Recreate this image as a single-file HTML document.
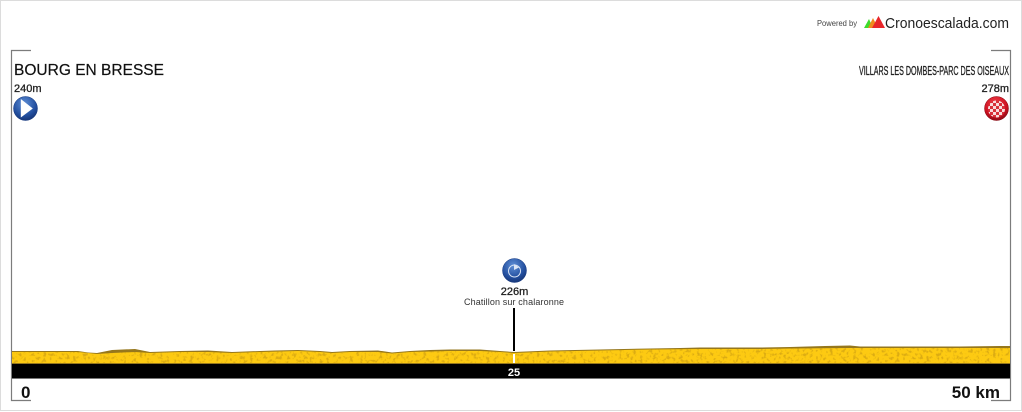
<!DOCTYPE html>
<html><head><meta charset="utf-8"><style>
html,body{margin:0;padding:0;background:#fff}
svg{display:block}
text{font-family:"Liberation Sans",sans-serif}
</style></head><body>
<svg width="1022" height="412" viewBox="0 0 1022 412" xmlns="http://www.w3.org/2000/svg">
<defs>
<filter id="n" x="0" y="0" width="100%" height="100%" color-interpolation-filters="sRGB">
<feTurbulence type="fractalNoise" baseFrequency="0.3" numOctaves="2" seed="4"/>
<feColorMatrix values="0 0 0 0 0.76  0 0 0 0 0.58  0 0 0 0 0.08  5 0 0 0 -2.6"/>
</filter>
<clipPath id="prof"><path d="M12 352L78 352L88 353L97 354L112 353L135 352L150 353L180 352L208 352L232 353L260 352L298 351L320 352L332 353L350 352L378 352L392 353.5L410 352L450 351L480 351L500 352L514 353L550 351.5L600 350.5L650 349.500L700 349L760 349L790 348.5L850 348L900 348L1010 348L1010 363L12 363Z"/></clipPath>
<radialGradient id="b" cx="45%" cy="30%" r="75%"><stop offset="0" stop-color="#5f8fd6"/><stop offset=".65" stop-color="#234f9f"/><stop offset="1" stop-color="#14306e"/></radialGradient>
<radialGradient id="r" cx="45%" cy="30%" r="75%"><stop offset="0" stop-color="#f0404a"/><stop offset=".65" stop-color="#cc1020"/><stop offset="1" stop-color="#7e0a14"/></radialGradient>
<pattern id="chk" width="6" height="6" patternUnits="userSpaceOnUse" x="987" y="100"><rect width="6" height="6" fill="#f7dcdd"/><rect x="3" width="3" height="3" fill="#d8303a"/><rect y="3" width="3" height="3" fill="#d8303a"/></pattern>
</defs>

<rect x="0" y="0" width="1022" height="412" fill="#fff"/>
<rect x="0" y="410" width="1022" height="1" fill="#dcdcdc"/>
<rect x="0" y="0" width="1022" height="1" fill="#dcdcdc"/>
<rect x="0" y="0" width="1" height="411" fill="#dcdcdc"/>
<rect x="1021" y="0" width="1" height="411" fill="#dcdcdc"/>

<!-- axes -->
<path d="M31 50.5H11.5V400.5H31M991 50.5H1010.5V400.5H991" fill="none" stroke="#7c7c7c" stroke-width="1.2"/>

<!-- profile -->
<path d="M12 351L78 351L88 352.5L97 353L112 350L135 349L150 352L180 351L208 350.5L232 352L260 351L275 350.5L298 350L320 351L332 352L350 351L378 350.5L392 352.5L410 351L430 350L450 349.5L480 349.5L500 351L514 352L550 350.5L600 349.5L650 348.5L680 348L700 347.5L760 347.5L790 347L825 346L850 345.5L860 346.5L900 346.5L960 346.5L1000 346L1010 346L1010 364L12 364Z" fill="#96771c"/>
<path d="M12 352L78 352L88 353L97 354L112 353L135 352L150 353L180 352L208 352L232 353L260 352L298 351L320 352L332 353L350 352L378 352L392 353.5L410 352L450 351L480 351L500 352L514 353L550 351.5L600 350.5L650 349.500L700 349L760 349L790 348.5L850 348L900 348L1010 348L1010 363L12 363Z" fill="#fdca12"/>
<g clip-path="url(#prof)" opacity=".55"><rect x="12" y="344" width="998" height="20" filter="url(#n)"/></g>

<!-- black bar -->
<rect x="12" y="364" width="998" height="14" fill="#000"/>
<rect x="12" y="378" width="998" height="1" fill="#777"/>

<!-- midpoint -->
<rect x="513" y="308" width="2" height="43" fill="#000"/>
<rect x="513" y="354" width="2" height="9" fill="#fff"/>
<text x="514" y="376" font-size="11" font-weight="bold" fill="#fff" text-anchor="middle">25</text>
<circle cx="514.5" cy="270.500" r="12" fill="url(#b)" stroke="#1c3f85" stroke-width=".5"/>
<circle cx="514.5" cy="271" r="6" fill="none" stroke="#dce6f6" stroke-width="1"/>
<path d="M514 264L519 267.5L514 270Z" fill="#dce6f6"/>
<text x="514.5" y="295" font-size="11" fill="#222" stroke="#222" stroke-width=".3" text-anchor="middle">226m</text>
<text x="514" y="305" font-size="9" fill="#333" text-anchor="middle" textLength="100" lengthAdjust="spacing">Chatillon sur chalaronne</text>

<!-- start -->
<text x="14" y="75" font-size="15.5" fill="#111" stroke="#111" stroke-width=".2" textLength="150" lengthAdjust="spacingAndGlyphs">BOURG EN BRESSE</text>
<text x="14" y="92" font-size="11" fill="#222" stroke="#222" stroke-width=".3">240m</text>
<circle cx="25.5" cy="108.5" r="12" fill="url(#b)" stroke="#1c3f85" stroke-width=".5"/>
<path d="M20.800 99L32.800 108.500L20.800 117.500Z" fill="#fff"/>

<!-- finish -->
<text x="859" y="75" font-size="12.5" fill="#222" stroke="#222" stroke-width=".3" textLength="150" lengthAdjust="spacingAndGlyphs">VILLARS LES DOMBES-PARC DES OISEAUX</text>
<text x="1009" y="92" font-size="11" fill="#222" stroke="#222" stroke-width=".3" text-anchor="end">278m</text>
<circle cx="996.5" cy="108.5" r="12" fill="url(#r)" stroke="#8a0c16" stroke-width=".5"/>
<circle cx="996.5" cy="109" r="8.500" fill="url(#chk)"/>

<!-- logo -->
<text x="817" y="26" font-size="8.5" fill="#444" textLength="40" lengthAdjust="spacingAndGlyphs">Powered by</text>
<path d="M864 28L869 19L873 28Z" fill="#3ddc2c"/>
<path d="M868 28L873 18L878 28Z" fill="#f08a1e"/>
<path d="M872 28L878.500 16L885 28Z" fill="#e8262a"/>
<text x="885" y="28" font-size="15" fill="#222" textLength="124" lengthAdjust="spacingAndGlyphs">Cronoescalada.com</text>

<!-- km labels -->
<text x="21" y="398" font-size="17" font-weight="bold" fill="#111">0</text>
<text x="1000" y="398" font-size="17" font-weight="bold" fill="#111" text-anchor="end">50 km</text>
</svg>
</body></html>
